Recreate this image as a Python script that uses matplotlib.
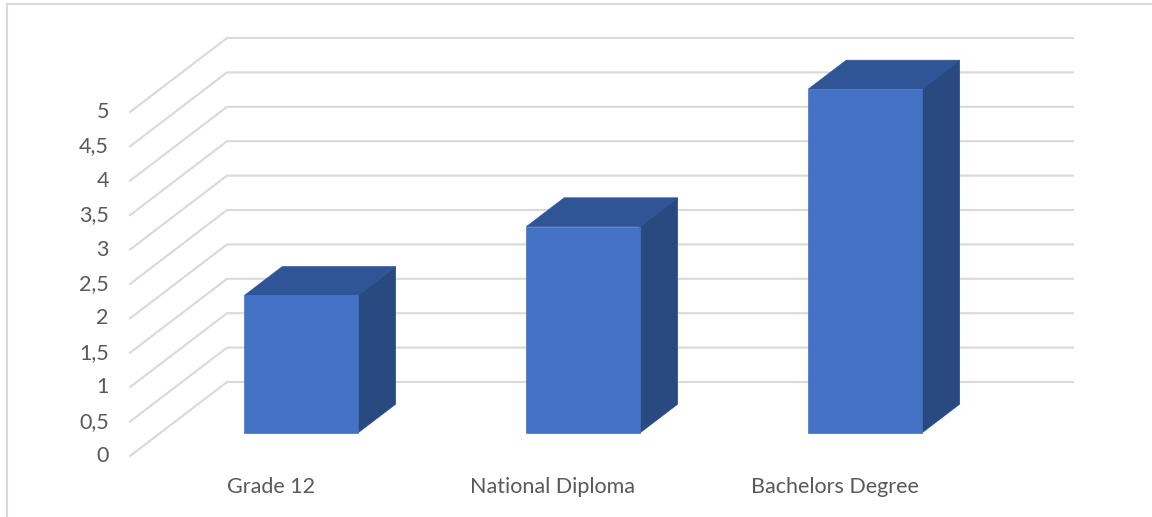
import numpy as np
import matplotlib
matplotlib.use("Agg")
import matplotlib.pyplot as plt
from matplotlib.patches import Polygon
from matplotlib.lines import Line2D

# data
categories = ["Grade 12", "National Diploma", "Bachelors Degree"]
values = [2, 3, 5]
y_ticks = [0, 0.5, 1, 1.5, 2, 2.5, 3, 3.5, 4, 4.5, 5]
y_tick_labels = ["0", "0,5", "1", "1,5", "2", "2,5", "3", "3,5", "4", "4,5", "5"]

W, H = 1152, 517
fig = plt.figure(figsize=(W / 100, H / 100), dpi=100)
fig.patch.set_facecolor("white")

# front plane of the 3D box (pixel placement)
x0, x1 = 130, 976
y0, y1 = 456, 112
ax = fig.add_axes([x0 / W, (H - y0) / H, (x1 - x0) / W, (y0 - y1) / H])
ax.set_xlim(-0.5, len(categories) - 0.5)
ax.set_ylim(0, 5)
ax.axis("off")

# oblique depth offset in pixels for full depth
DX, DY = 97, 74
fig.canvas.draw()
inv = ax.transData.inverted()


def proj(x, v, d):
    p = ax.transData.transform((x, v)) + d * np.array([DX, DY])
    return inv.transform(p)


grid_col = "#D9D9D9"
text_col = "#595959"
font = "Lato"
fsize = 15.5

# back wall + left wall gridlines
for v in y_ticks:
    a = proj(-0.5, v, 1)
    b = proj(len(categories) - 0.5, v, 1)
    c = proj(-0.5, v, 0)
    ax.add_line(Line2D([c[0], a[0], b[0]], [c[1], a[1], b[1]], color=grid_col,
                       lw=1.5, clip_on=False, zorder=1))

# y tick labels at front-left edge
for v, lab in zip(y_ticks, y_tick_labels):
    p = proj(-0.5, v, 0)
    ax.text(p[0] - 0.075, p[1], lab, ha="right", va="center",
            fontsize=fsize, color=text_col, family=font)

# bars
front_col = "#4472C4"
top_col = "#2F5597"
side_col = "#294A80"
w = 0.402
d0, d1 = 0.31, 0.70
for i, h in enumerate(values):
    l, r = i - w / 2, i + w / 2
    front = [proj(l, 0, d0), proj(r, 0, d0), proj(r, h, d0), proj(l, h, d0)]
    side = [proj(r, 0, d0), proj(r, 0, d1), proj(r, h, d1), proj(r, h, d0)]
    top = [proj(l, h, d0), proj(r, h, d0), proj(r, h, d1), proj(l, h, d1)]
    for pts, col in [(side, side_col), (top, top_col), (front, front_col)]:
        ax.add_patch(Polygon(pts, closed=True, facecolor=col, edgecolor=col,
                             lw=0.5, clip_on=False, zorder=3))

# category labels
for i, cat in enumerate(categories):
    ax.text(i, -0.45, cat, ha="center", va="center", fontsize=fsize,
            color=text_col, family=font)

# chart border (top and left)
fig.add_artist(Line2D([7 / W, 7 / W], [0, 1 - 4 / H], color="#D9D9D9", lw=1.5))
fig.add_artist(Line2D([7 / W, 1], [1 - 4 / H, 1 - 4 / H], color="#D9D9D9", lw=1.5))

fig.savefig("out.png", dpi=100, facecolor="white")
